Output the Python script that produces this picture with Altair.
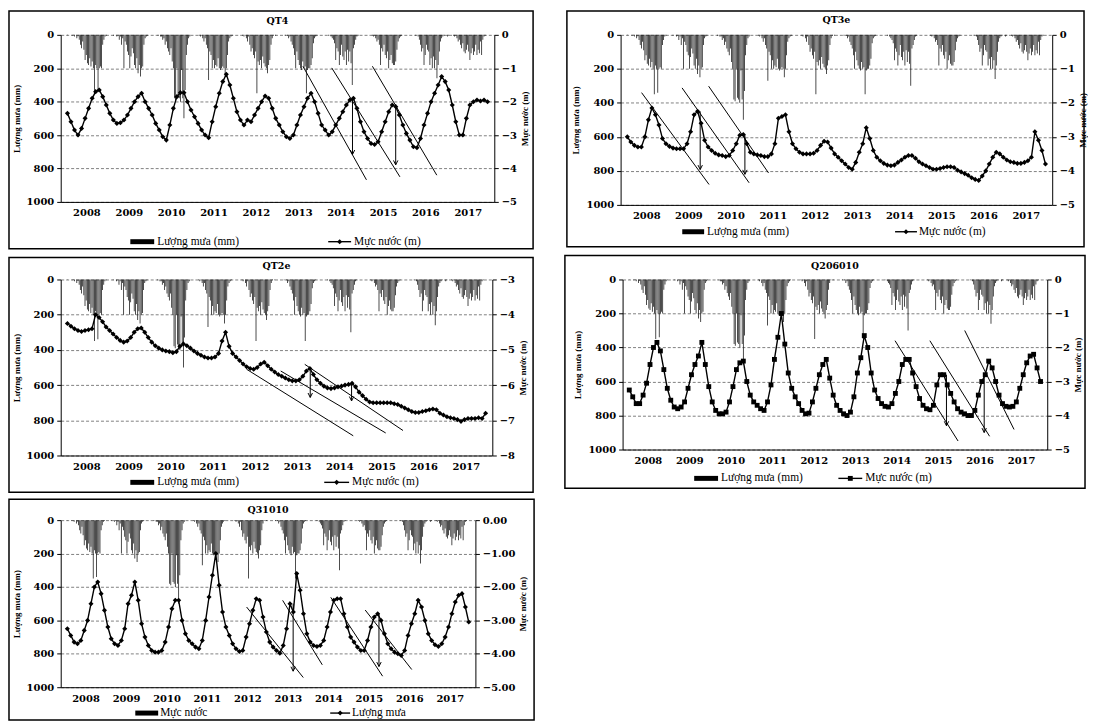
import altair as alt
import pandas as pd

YEARS = list(range(2008, 2018))

# ---- rainfall (mm), three 10-day totals per month, shared by all five panels ----
RAIN_2008 = [0, 2, 0, 0, 0, 5, 3, 10, 0, 20, 8, 30, 60, 80, 40, 90, 150, 120, 170, 180, 140, 190, 160, 200, 350, 180, 200, 340, 200, 190, 200, 60, 30, 10, 5, 0]
RAIN_2009 = [0, 0, 0, 0, 5, 0, 0, 10, 5, 30, 10, 60, 20, 200, 40, 60, 100, 120, 200, 130, 80, 110, 180, 200, 140, 230, 180, 250, 200, 190, 60, 20, 10, 5, 0, 0]
RAIN_2010 = [0, 0, 0, 0, 0, 0, 5, 0, 10, 10, 30, 20, 60, 40, 80, 100, 120, 80, 160, 200, 380, 390, 200, 370, 380, 400, 210, 380, 500, 330, 120, 60, 20, 10, 0, 0]
RAIN_2011 = [0, 0, 0, 0, 0, 5, 10, 0, 20, 40, 20, 60, 80, 270, 100, 120, 200, 150, 200, 180, 190, 140, 200, 210, 200, 190, 200, 250, 200, 120, 40, 20, 10, 5, 0, 0]
RAIN_2012 = [0, 0, 0, 0, 0, 0, 5, 10, 0, 20, 40, 10, 60, 100, 80, 120, 140, 100, 350, 160, 180, 150, 200, 130, 170, 190, 200, 230, 180, 150, 60, 20, 5, 0, 5, 0]
RAIN_2013 = [0, 0, 0, 0, 0, 0, 5, 0, 5, 20, 10, 40, 60, 80, 120, 200, 100, 150, 180, 200, 210, 160, 200, 190, 350, 210, 200, 200, 180, 140, 50, 20, 10, 5, 0, 0]
RAIN_2014 = [0, 0, 0, 0, 0, 0, 0, 5, 0, 10, 20, 30, 50, 150, 80, 100, 180, 120, 60, 130, 150, 100, 180, 90, 160, 100, 170, 300, 80, 60, 30, 10, 5, 0, 0, 0]
RAIN_2015 = [0, 0, 0, 0, 0, 0, 0, 0, 5, 10, 5, 20, 40, 30, 60, 180, 80, 100, 60, 120, 140, 100, 200, 150, 120, 170, 180, 180, 160, 90, 40, 20, 10, 5, 0, 0]
RAIN_2016 = [0, 0, 0, 0, 0, 0, 0, 0, 0, 5, 0, 10, 30, 60, 100, 80, 180, 120, 60, 90, 100, 180, 140, 200, 130, 200, 150, 260, 180, 100, 40, 20, 10, 5, 0, 0]
RAIN_2017 = [10, 5, 0, 0, 0, 5, 10, 5, 20, 40, 30, 60, 80, 50, 100, 110, 90, 60, 100, 150, 110, 80, 120, 100, 60, 120, 90, 110, 40, 120, 30, 10, 5, 0, 0, 0]
RAIN = [RAIN_2008, RAIN_2009, RAIN_2010, RAIN_2011, RAIN_2012,
        RAIN_2013, RAIN_2014, RAIN_2015, RAIN_2016, RAIN_2017]

# ---- monthly groundwater level (m), Jan 2008 .. Dec 2017 ----
QT4_LEVEL = [
    -2.35, -2.60, -2.85, -3.00, -2.80, -2.50, -2.20, -1.90, -1.70, -1.65, -1.85, -2.10,
    -2.35, -2.55, -2.65, -2.63, -2.55, -2.40, -2.20, -2.00, -1.85, -1.75, -2.00, -2.20,
    -2.40, -2.65, -2.85, -3.05, -3.15, -2.70, -2.20, -1.85, -1.73, -1.73, -2.00, -2.25,
    -2.45, -2.65, -2.85, -3.00, -3.08, -2.60, -2.15, -1.75, -1.40, -1.18, -1.50, -1.90,
    -2.30, -2.55, -2.70, -2.55, -2.60, -2.40, -2.20, -2.00, -1.83, -1.90, -2.20, -2.50,
    -2.70, -2.90, -3.05, -3.10, -3.00, -2.70, -2.40, -2.15, -1.90, -1.75, -2.00, -2.35,
    -2.70, -2.85, -3.00, -2.90, -2.70, -2.50, -2.30, -2.10, -1.95, -1.90, -2.20, -2.60,
    -2.90, -3.10, -3.25, -3.28, -3.20, -2.90, -2.60, -2.30, -2.10, -2.15, -2.40, -2.70,
    -2.95, -3.15, -3.35, -3.38, -3.10, -2.70, -2.35, -2.00, -1.75, -1.50, -1.25, -1.40,
    -1.65, -2.10, -2.60, -3.00, -3.00, -2.50, -2.10, -2.00, -1.95, -1.98, -1.95, -2.00,
]
QT3E_LEVEL = [
    -3.00, -3.15, -3.25, -3.30, -3.30, -3.00, -2.50, -2.15, -2.35, -2.65, -3.05, -3.20,
    -3.28, -3.33, -3.35, -3.35, -3.35, -3.20, -2.85, -2.35, -2.25, -2.60, -3.10, -3.30,
    -3.40, -3.48, -3.53, -3.55, -3.58, -3.55, -3.40, -3.20, -2.95, -2.93, -3.20, -3.45,
    -3.50, -3.53, -3.55, -3.58, -3.58, -3.50, -3.20, -2.45, -2.40, -2.35, -2.85, -3.20,
    -3.35, -3.45, -3.50, -3.50, -3.50, -3.48, -3.40, -3.25, -3.13, -3.15, -3.33, -3.50,
    -3.60, -3.70, -3.80, -3.90, -3.95, -3.75, -3.45, -3.20, -2.73, -3.05, -3.40, -3.60,
    -3.70, -3.78, -3.83, -3.85, -3.83, -3.75, -3.68, -3.60, -3.55, -3.55, -3.63, -3.73,
    -3.80, -3.85, -3.90, -3.95, -3.95, -3.93, -3.90, -3.88, -3.88, -3.90, -3.98, -4.03,
    -4.08, -4.13, -4.20, -4.25, -4.28, -4.15, -4.00, -3.80, -3.60, -3.45, -3.50, -3.60,
    -3.68, -3.73, -3.75, -3.78, -3.78, -3.75, -3.70, -3.60, -2.85, -3.10, -3.40, -3.80,
]
QT2E_LEVEL = [
    -4.25, -4.33, -4.40, -4.45, -4.48, -4.45, -4.43, -4.40, -4.00, -4.08, -4.20, -4.35,
    -4.45, -4.55, -4.65, -4.73, -4.78, -4.75, -4.65, -4.50, -4.40, -4.38, -4.50, -4.65,
    -4.78, -4.88, -4.95, -5.00, -5.03, -5.05, -5.08, -5.05, -4.90, -4.83, -4.88, -4.95,
    -5.03, -5.10, -5.15, -5.20, -5.23, -5.23, -5.20, -5.10, -4.75, -4.50, -4.90, -5.10,
    -5.20, -5.30, -5.40, -5.48, -5.53, -5.55, -5.50, -5.40, -5.35, -5.45, -5.55, -5.63,
    -5.70, -5.75, -5.80, -5.85, -5.88, -5.88, -5.85, -5.75, -5.60, -5.53, -5.70, -5.85,
    -5.95, -6.03, -6.08, -6.10, -6.08, -6.05, -6.03, -6.00, -5.98, -5.95, -6.05, -6.20,
    -6.30, -6.40, -6.48, -6.50, -6.50, -6.50, -6.50, -6.50, -6.50, -6.53, -6.55, -6.60,
    -6.65, -6.70, -6.75, -6.78, -6.78, -6.75, -6.73, -6.70, -6.68, -6.70, -6.80, -6.85,
    -6.90, -6.93, -6.95, -6.98, -7.03, -6.98, -6.95, -6.95, -6.95, -6.93, -6.95, -6.80,
]
Q206010_LEVEL = [
    -3.25, -3.45, -3.65, -3.65, -3.40, -3.05, -2.50, -2.00, -1.85, -2.10, -2.65, -3.20,
    -3.55, -3.75, -3.80, -3.75, -3.60, -3.20, -2.80, -2.50, -2.25, -1.85, -2.50, -3.15,
    -3.60, -3.85, -3.95, -3.95, -3.90, -3.60, -3.15, -2.65, -2.45, -2.40, -3.00, -3.40,
    -3.60, -3.70, -3.80, -3.85, -3.60, -3.10, -2.35, -1.70, -1.00, -1.90, -2.75, -3.20,
    -3.45, -3.65, -3.85, -3.95, -3.93, -3.60, -3.20, -2.80, -2.50, -2.35, -2.90, -3.40,
    -3.70, -3.85, -3.95, -4.00, -3.90, -3.45, -2.75, -2.30, -1.65, -2.00, -2.75, -3.25,
    -3.50, -3.65, -3.73, -3.75, -3.65, -3.35, -3.00, -2.50, -2.35, -2.35, -2.75, -3.15,
    -3.50, -3.70, -3.80, -3.83, -3.70, -3.10, -2.80, -2.80, -3.10, -3.35, -3.60, -3.80,
    -3.90, -3.95, -4.00, -4.00, -3.85, -3.40, -3.00, -2.80, -2.40, -2.60, -3.00, -3.40,
    -3.65, -3.73, -3.75, -3.73, -3.60, -3.20, -2.80, -2.45, -2.25, -2.20, -2.60, -3.00,
]
Q31010_LEVEL = [
    -3.25, -3.45, -3.65, -3.70, -3.60, -3.30, -3.00, -2.50, -2.00, -1.85, -2.20, -2.70,
    -3.20, -3.55, -3.70, -3.75, -3.60, -3.25, -2.50, -2.25, -1.85, -2.40, -3.10, -3.50,
    -3.75, -3.90, -3.95, -3.95, -3.90, -3.65, -3.20, -2.65, -2.40, -2.40, -3.00, -3.40,
    -3.60, -3.70, -3.80, -3.85, -3.60, -3.00, -2.30, -1.65, -1.00, -1.95, -2.75, -3.20,
    -3.45, -3.70, -3.85, -3.93, -3.90, -3.50, -3.10, -2.70, -2.35, -2.40, -2.90, -3.35,
    -3.65, -3.80, -3.90, -3.98, -3.75, -3.25, -2.50, -2.75, -1.60, -2.10, -2.80, -3.40,
    -3.65, -3.75, -3.78, -3.75, -3.60, -3.20, -2.75, -2.40, -2.35, -2.35, -2.80, -3.20,
    -3.50, -3.65, -3.80, -3.90, -3.90, -3.60, -3.20, -2.90, -2.80, -3.00, -3.40, -3.70,
    -3.85, -3.95, -4.00, -4.05, -3.90, -3.45, -3.10, -2.80, -2.40, -2.60, -3.00, -3.40,
    -3.60, -3.73, -3.78, -3.70, -3.50, -3.20, -2.80, -2.45, -2.25, -2.20, -2.60, -3.05,
]

# ---- hand-drawn trend lines (year, level) -> (year, level) and recession arrows ----
QT4_LINES = [(2013.60, -0.94, 2015.10, -4.34), (2014.28, -0.99, 2015.89, -4.25), (2015.24, -0.94, 2016.76, -4.20)]
QT4_ARROWS = [(2014.77, -1.87, -3.58), (2015.79, -2.07, -3.89)]
QT3E_LINES = [(2008.38, -1.70, 2009.98, -4.40), (2009.34, -1.56, 2010.93, -4.35), (2009.97, -1.51, 2011.39, -4.06)]
QT3E_ARROWS = [(2009.77, -2.25, -3.96), (2010.83, -2.93, -4.10)]
QT2E_LINES = [(2012.29, -5.55, 2014.82, -7.44), (2013.10, -5.60, 2015.59, -7.36), (2013.67, -5.41, 2016.00, -7.29)]
QT2E_ARROWS = [(2013.80, -5.60, -6.35), (2014.78, -5.98, -6.45)]
Q206010_LINES = [(2014.45, -1.80, 2015.97, -4.75), (2015.29, -1.80, 2016.73, -4.61), (2016.13, -1.50, 2017.32, -4.41)]
Q206010_ARROWS = [(2015.69, -2.80, -4.30), (2016.60, -2.80, -4.50)]
Q31010_LINES = [(2012.47, -2.60, 2013.87, -4.71), (2013.36, -2.40, 2014.34, -4.33),
                (2014.55, -2.31, 2015.83, -4.67), (2015.40, -2.69, 2016.55, -4.47)]
Q31010_ARROWS = [(2013.62, -2.50, -4.52), (2015.74, -2.80, -4.38)]

RAIN_TITLE = "Lượng mưa (mm)"
LEVEL_TITLE = "Mực nước (m)"

NUM_FONT = "DejaVu Serif"
TXT_FONT = "Liberation Serif"
V_HEAD = "M-0.7,-1.4L0,0L0.7,-1.4"


def rain_df():
    rows = []
    for yi, year in enumerate(YEARS):
        for k, v in enumerate(RAIN[yi]):
            m, d = divmod(k, 3)
            rows.append({"t": year + (m + (d + 0.5) / 3) / 12, "rain": v})
    return pd.DataFrame(rows)


def level_df(levels):
    rows = []
    for i, v in enumerate(levels):
        year, m = YEARS[i // 12], i % 12
        rows.append({"t": year + (m + 0.5) / 12, "level": v})
    return pd.DataFrame(rows)


RAIN_DF = rain_df()
ONE = pd.DataFrame({"k": [0]})


def xs():
    return alt.Scale(domain=[2008, 2018], nice=False, zero=False)


def xaxis():
    return alt.Axis(values=[y + 0.49 for y in YEARS], format="d",
                    ticks=False, grid=False, domain=True, domainColor="black",
                    domainWidth=1, labelFont=NUM_FONT,
                    labelFontWeight="bold", labelFontSize=10, labelColor="black",
                    labelPadding=6, labelOverlap=False, title=None)


def panel(st):
    w, h = st["w"], st["h"]
    lo, hi = st["dom"]
    fmt = st["fmt"]

    def ys():
        return alt.Scale(domain=[lo, hi], nice=False, zero=False)

    def X(field):
        return alt.X(field, scale=xs(), axis=xaxis())

    laxis = alt.Axis(orient="left", values=[0, 200, 400, 600, 800, 1000], format="d",
                     grid=True, gridColor="#808080", gridDash=[3, 2], gridWidth=1,
                     domain=True, domainColor="black", domainWidth=1,
                     ticks=True, tickColor="black", tickSize=4,
                     labelFont=NUM_FONT, labelFontWeight="bold", labelFontSize=10,
                     labelColor="black", labelPadding=3,
                     title=RAIN_TITLE, titleFont=TXT_FONT, titleFontWeight="bold",
                     titleFontSize=9, titleColor="black", titlePadding=5)
    raxis = alt.Axis(orient="right", values=list(range(int(lo), int(hi) + 1)),
                     format=fmt, grid=False, domain=True, domainColor="black",
                     domainWidth=1, ticks=True, tickColor="black",
                     tickSize=4, labelFont=NUM_FONT, labelFontWeight="bold",
                     labelFontSize=10, labelColor="black", labelPadding=3,
                     title=LEVEL_TITLE, titleFont=TXT_FONT, titleFontWeight="bold",
                     titleFontSize=9, titleColor="black", titleAngle=270,
                     titleBaseline="top", titlePadding=4)

    bars = alt.Chart(RAIN_DF).mark_bar(orient="vertical", size=0.75, color="#111").encode(
        x=X("t:Q"),
        y=alt.Y("rain:Q", scale=alt.Scale(domain=[0, 1000], reverse=True, nice=False), axis=laxis),
    )

    line = alt.Chart(level_df(st["levels"])).mark_line(
        color="black", strokeWidth=1.4,
        point=alt.OverlayMarkDef(shape=st["marker"], filled=True, size=st["msize"], color="black"),
    ).encode(
        x=X("t:Q"),
        y=alt.Y("level:Q", scale=ys(), axis=raxis),
    )
    ldf = pd.DataFrame(st["lines"], columns=["x1", "y1", "x2", "y2"])
    trend = alt.Chart(ldf).mark_rule(color="black", strokeWidth=1).encode(
        x=X("x1:Q"), x2="x2:Q",
        y=alt.Y("y1:Q", scale=ys(), axis=None), y2="y2:Q",
    )
    adf = pd.DataFrame(st["arrows"], columns=["x", "ya", "yb"])
    arrow = alt.Chart(adf).mark_rule(color="black", strokeWidth=1).encode(
        x=X("x:Q"),
        y=alt.Y("ya:Q", scale=ys(), axis=None), y2="yb:Q",
    )
    heads = alt.Chart(adf).mark_point(shape=V_HEAD, filled=False, color="black",
                                      size=40, strokeWidth=1, opacity=1).encode(
        x=X("x:Q"),
        y=alt.Y("yb:Q", scale=ys(), axis=None),
    )

    fx1, fy1, fx2, fy2 = st["frame"]
    frame = alt.Chart(ONE).mark_rect(fillOpacity=0, stroke="black", strokeWidth=1.5).encode(
        x=alt.value(fx1), x2=alt.value(fx2), y=alt.value(fy1), y2=alt.value(fy2))
    title = alt.Chart(ONE).mark_text(font=NUM_FONT, fontWeight="bold", fontSize=9.5,
                                     color="black", align="center", baseline="middle").encode(
        x=alt.value(w / 2), y=alt.value(st["title_y"]), text=alt.value(st["name"]))

    lg = st["leg"]
    ly = lg["y"]
    leg_rect = alt.Chart(ONE).mark_rect(color="black").encode(
        x=alt.value(lg["r"][0]), x2=alt.value(lg["r"][1]),
        y=alt.value(ly - 2.5), y2=alt.value(ly + 2.5))
    leg_line = alt.Chart(ONE).mark_rule(color="black", strokeWidth=1.4).encode(
        x=alt.value(lg["l"][0]), x2=alt.value(lg["l"][1]), y=alt.value(ly))
    leg_pt = alt.Chart(ONE).mark_point(shape=st["marker"], filled=True, size=st["msize"],
                                       color="black", opacity=1).encode(
        x=alt.value((lg["l"][0] + lg["l"][1]) / 2), y=alt.value(ly))
    leg_t1 = alt.Chart(ONE).mark_text(font=TXT_FONT, fontSize=11.5, color="black",
                                      align="left", baseline="middle").encode(
        x=alt.value(lg["t1"]), y=alt.value(ly), text=alt.value(st["lab1"]))
    leg_t2 = alt.Chart(ONE).mark_text(font=TXT_FONT, fontSize=11.5, color="black",
                                      align="left", baseline="middle").encode(
        x=alt.value(lg["t2"]), y=alt.value(ly), text=alt.value(st["lab2"]))

    return alt.layer(bars, line, trend, arrow, heads, frame, title,
                     leg_rect, leg_line, leg_pt, leg_t1, leg_t2
                     ).resolve_scale(y="independent").properties(width=w, height=h)


STATIONS = {
    "QT4": dict(name="QT4", levels=QT4_LEVEL, dom=(-5, 0), fmt="d", marker="diamond", msize=26,
                lines=QT4_LINES, arrows=QT4_ARROWS, w=436, h=168, frame=(-52, -24, 475, 215),
                title_y=-14, leg=dict(y=208, r=(70, 94), t1=97, l=(269, 292), t2=295),
                lab1=RAIN_TITLE, lab2=LEVEL_TITLE),
    "QT3e": dict(name="QT3e", levels=QT3E_LEVEL, dom=(-5, 0), fmt="d", marker="diamond", msize=26,
                 lines=QT3E_LINES, arrows=QT3E_ARROWS, w=434, h=171, frame=(-54, -24, 466, 213),
                 title_y=-15, leg=dict(y=198, r=(62, 84), t1=87, l=(276, 298), t2=300),
                 lab1=RAIN_TITLE, lab2=LEVEL_TITLE),
    "QT2e": dict(name="QT2e", levels=QT2E_LEVEL, dom=(-8, -3), fmt="d", marker="diamond", msize=26,
                 lines=QT2E_LINES, arrows=QT2E_ARROWS, w=434, h=177, frame=(-52, -22, 475, 214),
                 title_y=-14, leg=dict(y=204, r=(70, 94), t1=97, l=(265, 290), t2=293),
                 lab1=RAIN_TITLE, lab2=LEVEL_TITLE),
    "Q206010": dict(name="Q206010", levels=Q206010_LEVEL, dom=(-5, 0), fmt="d", marker="square",
                    msize=24, lines=Q206010_LINES, arrows=Q206010_ARROWS, w=427, h=171,
                    frame=(-58, -24, 465, 210), title_y=-14,
                    leg=dict(y=200, r=(72, 96), t1=99, l=(217, 241), t2=244),
                    lab1=RAIN_TITLE, lab2=LEVEL_TITLE),
    "Q31010": dict(name="Q31010", levels=Q31010_LEVEL, dom=(-5, 0), fmt=".2f", marker="diamond",
                   msize=26, lines=Q31010_LINES, arrows=Q31010_ARROWS, w=417, h=168,
                   frame=(-52, -21, 476, 201), title_y=-10,
                   leg=dict(y=194, r=(75, 98), t1=100, l=(271, 291), t2=293),
                   lab1="Mực nước", lab2="Lượng mưa"),
}

row1 = alt.hconcat(panel(STATIONS["QT4"]), panel(STATIONS["QT3e"]), spacing=32)
row2 = alt.hconcat(panel(STATIONS["QT2e"]), panel(STATIONS["Q206010"]), spacing=30)
row3 = panel(STATIONS["Q31010"])

chart = alt.vconcat(row1, row2, row3, spacing=5).properties(
    padding=0, background="white"
).configure_view(stroke=None)

chart.save("out.html", embed_options={"renderer": "svg", "actions": False})
